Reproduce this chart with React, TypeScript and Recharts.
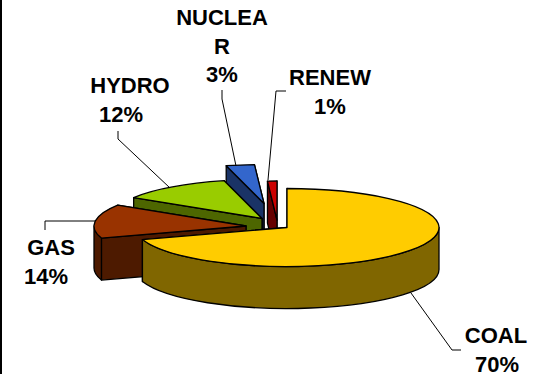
import { Pie, PieChart } from "recharts"

// slices are listed back to front so the nearest one paints last
const categories = ["RENEW", "NUCLEAR", "HYDRO", "GAS", "COAL"]
const shares = [1, 3, 12, 14, 70]
const topColors = ["#CC0000", "#3366CC", "#99CC00", "#993300", "#FFCC00"]
const sideColors = ["#660000", "#1A3366", "#4D6600", "#4D1A00", "#806600"]

const pieData = categories.map((name, i) => ({
  name,
  value: shares[i],
  fill: topColors[i],
  side: sideColors[i],
}))

// 3D look of the pie
const radiusX = 152
const radiusY = 39
const depth = 42
const RAD = Math.PI / 180

// how far each slice is pulled out of the pie
const explode: Record<string, [number, number]> = {
  RENEW: [-10, -7.5],
  NUCLEAR: [-23, -24],
  HYDRO: [-25, -9],
  GAS: [-41, -1.5],
  COAL: [0, 0],
}

// label block and leader line for each slice, in chart pixels
const callouts: Record<string, { x: number; valueX: number; y: number; lines: string[]; leader: string }> = {
  RENEW: { x: 330, valueX: 330, y: 85, lines: ["RENEW"], leader: "286,91 276,91 268,180" },
  NUCLEAR: { x: 222, valueX: 222, y: 25, lines: ["NUCLEA", "R"], leader: "222,90 222,99 236,166" },
  HYDRO: { x: 130, valueX: 121, y: 93, lines: ["HYDRO"], leader: "118,131 118,139 170,188" },
  GAS: { x: 51, valueX: 46, y: 255, lines: ["GAS"], leader: "45,230 45,221 95,221" },
  COAL: { x: 496, valueX: 497, y: 343, lines: ["COAL"], leader: "411,293 452,350 461,350" },
}

const SliceShape = (props: any) => {
  const { cx, cy, startAngle, endAngle, fill, name, payload } = props
  const sliceName = name ?? payload?.name
  const side = payload?.side ?? props.side
  const [dx, dy] = explode[sliceName]
  const ax = cx + dx
  const ay = cy + dy
  const px = (deg: number) => ax + radiusX * Math.cos(deg * RAD)
  const py = (deg: number) => ay - radiusY * Math.sin(deg * RAD)
  const large = endAngle - startAngle > 180 ? 1 : 0

  const top = `M${ax},${ay} L${px(startAngle)},${py(startAngle)} A${radiusX},${radiusY} 0 ${large} 0 ${px(endAngle)},${py(endAngle)} Z`

  const face = (deg: number) =>
    `M${ax},${ay} L${px(deg)},${py(deg)} L${px(deg)},${py(deg) + depth} L${ax},${ay + depth} Z`

  // paint the cut face that sits further back first
  const faceAngles = [startAngle, endAngle].sort((a, b) => py(a) - py(b))

  // only the lower half of the rim faces the viewer
  const wallFrom = Math.max(startAngle, 180)
  const wallTo = Math.min(endAngle, 360)
  const wall =
    wallTo > wallFrom
      ? `M${px(wallFrom)},${py(wallFrom)} A${radiusX},${radiusY} 0 0 0 ${px(wallTo)},${py(wallTo)} L${px(wallTo)},${py(wallTo) + depth} A${radiusX},${radiusY} 0 0 1 ${px(wallFrom)},${py(wallFrom) + depth} Z`
      : null

  return (
    <g stroke="#000" strokeWidth={1.3} strokeLinejoin="round">
      {faceAngles.map((deg) => (
        <path key={deg} d={face(deg)} fill={side} />
      ))}
      {wall && <path d={wall} fill={side} />}
      <path d={top} fill={fill} />
    </g>
  )
}

const renderCallout = (props: any) => {
  const box = callouts[props.name]
  const rows = [...box.lines, `${props.value}%`]
  return (
    <g>
      <polyline points={box.leader} fill="none" stroke="#000" strokeWidth={1} />
      {rows.map((row, i) => (
        <text
          key={row}
          x={i === rows.length - 1 ? box.valueX : box.x}
          y={box.y + i * 28.6}
          textAnchor="middle"
          fontFamily="'Liberation Sans', Arial, sans-serif"
          fontWeight="bold"
          fontSize={22}
          fill="#000"
        >
          {row}
        </text>
      ))}
    </g>
  )
}

export default function App() {
  return (
    <div style={{ position: "fixed", left: 0, top: 0, width: 540, height: 374, background: "#fff" }}>
      <PieChart width={540} height={374} margin={{ top: 0, right: 0, bottom: 0, left: 0 }}>
        <Pie
          data={pieData}
          dataKey="value"
          nameKey="name"
          cx={287}
          cy={227.5}
          innerRadius={0}
          outerRadius={radiusX}
          startAngle={90}
          endAngle={450}
          shape={SliceShape}
          label={renderCallout}
          labelLine={false}
          isAnimationActive={false}
        />
      </PieChart>
      <div style={{ position: "absolute", left: 0, top: 0, width: 2, height: 374, background: "#000" }} />
    </div>
  )
}
